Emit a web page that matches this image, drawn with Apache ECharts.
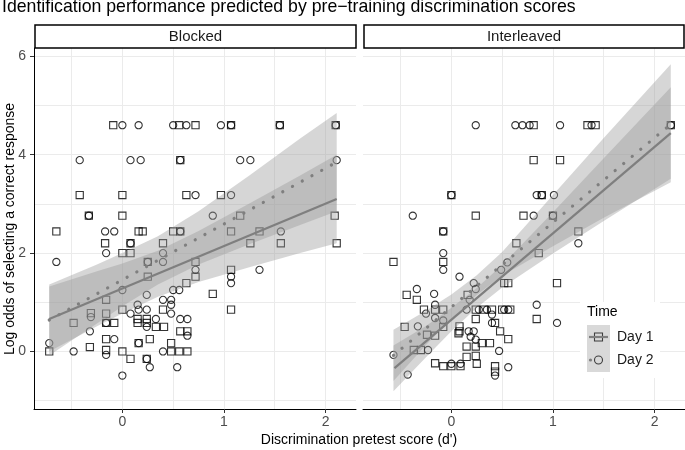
<!DOCTYPE html>
<html>
<head>
<meta charset="utf-8">
<script src="https://cdn.jsdelivr.net/npm/echarts@6/dist/echarts.min.js"></script>
<style>
html,body{margin:0;padding:0;background:#ffffff;}
#chart{width:685px;height:450px;}
</style>
</head>
<body>
<div id="chart"></div>
<script>
// ---------------- data ----------------
const panelNames = ['Blocked', 'Interleaved'];
const seriesNames = ['Day 1', 'Day 2'];
const xTicks = [0, 1, 2];
const yTicks = [0, 2, 4, 6];

// Blocked panel, Day 1 (open squares)
const blockedDay1 = [
  [-0.09,4.6],[0.56,4.6],[0.72,4.6],[1.07,4.6],[1.55,4.6],[2.10,4.6],
  [0.57,3.89],
  [-0.42,3.18],[0.0,3.18],[0.63,3.18],[0.97,3.18],
  [-0.33,2.76],[0.0,2.76],[1.16,2.76],[2.09,2.76],
  [-0.65,2.44],[0.16,2.44],[0.20,2.44],[0.50,2.44],[0.57,2.44],[1.07,2.44],[1.35,2.44],
  [-0.17,2.2],[0.08,2.2],[0.40,2.2],[1.26,2.2],[1.56,2.2],[2.11,2.2],
  [0.0,2.0],[0.08,2.0],
  [0.25,1.82],[0.72,1.82],
  [1.07,1.66],
  [0.25,1.52],[0.72,1.52],
  [0.63,1.39],
  [0.89,1.17],
  [-0.16,1.05],
  [0.0,0.85],[0.40,0.85],[1.07,0.85],
  [-0.31,0.78],[-0.16,0.77],
  [0.15,0.66],[0.24,0.66],
  [-0.48,0.58],[-0.16,0.58],[-0.08,0.58],[0.15,0.58],[0.24,0.58],
  [0.33,0.50],[0.41,0.50],
  [0.57,0.41],[0.64,0.41],
  [-0.16,0.25],[0.27,0.25],
  [0.16,0.17],[0.48,0.17],
  [-0.32,0.09],
  [-0.16,0.03],
  [-0.72,0.0],[0.0,0.0],[0.48,0.0],[0.56,0.0],[0.64,0.0],
  [0.08,-0.15],[0.24,-0.15]
];
// Blocked panel, Day 2 (open circles)
const blockedDay2 = [
  [0.0,4.6],[0.16,4.6],[0.50,4.6],[0.63,4.6],[0.97,4.6],[1.07,4.6],[1.55,4.6],[2.10,4.6],
  [-0.42,3.89],[0.08,3.89],[0.18,3.89],[0.57,3.89],[1.16,3.89],[1.26,3.89],[2.11,3.89],
  [0.72,3.18],[1.07,3.18],
  [-0.33,2.76],[0.89,2.76],
  [-0.17,2.44],[-0.08,2.44],[0.57,2.44],[1.56,2.44],
  [0.08,2.2],
  [-0.16,2.0],[0.40,2.0],
  [-0.65,1.82],[0.25,1.82],[0.40,1.82],
  [0.72,1.66],[1.35,1.66],
  [1.07,1.52],[1.07,1.39],
  [0.0,1.25],[0.50,1.25],[0.56,1.25],
  [0.24,1.15],
  [0.40,1.05],[0.48,1.05],
  [0.15,0.95],[0.48,0.95],
  [0.16,0.85],[0.24,0.85],
  [0.08,0.77],[0.48,0.77],
  [-0.31,0.70],
  [0.33,0.66],[0.57,0.66],[0.64,0.66],
  [-0.16,0.58],
  [0.24,0.50],
  [-0.32,0.41],
  [0.64,0.32],
  [-0.08,0.25],
  [-0.72,0.17],[0.16,0.17],
  [-0.48,0.0],[0.40,0.0],
  [-0.16,-0.07],
  [0.24,-0.15],
  [0.27,-0.32],[0.54,-0.32],
  [0.0,-0.49]
];
// Interleaved panel, Day 1 (open squares)
const interleavedDay1 = [
  [0.81,4.6],[1.34,4.6],[1.42,4.6],[2.16,4.6],
  [0.81,3.89],[1.07,3.89],
  [0.0,3.18],[0.89,3.18],
  [0.24,2.76],[0.71,2.76],[1.0,2.76],
  [-0.08,2.44],[1.25,2.44],
  [0.64,2.2],
  [0.86,2.0],
  [-0.57,1.82],[-0.08,1.82],
  [0.52,1.39],[0.56,1.39],[1.04,1.39],
  [-0.44,1.15],[0.16,1.15],
  [-0.34,1.05],
  [-0.27,0.85],[-0.16,0.85],[-0.08,0.85],[0.24,0.85],[0.32,0.85],[0.40,0.85],[0.50,0.85],[0.58,0.85],
  [0.24,0.66],[0.84,0.66],
  [0.43,0.58],
  [-0.46,0.50],[-0.08,0.50],[0.08,0.51],
  [0.08,0.41],[0.48,0.41],[0.07,0.37],
  [-0.24,0.34],[-0.16,0.32],
  [0.56,0.25],
  [0.30,0.17],[0.38,0.17],
  [0.15,0.10],[0.24,0.10],
  [-0.37,0.03],[-0.30,0.03],
  [0.24,-0.09],[0.15,-0.11],
  [-0.16,-0.24],[0.25,-0.25],
  [-0.08,-0.30],[0.0,-0.30],[0.09,-0.30],[0.43,-0.30],
  [0.43,-0.41]
];
// Interleaved panel, Day 2 (open circles)
const interleavedDay2 = [
  [0.24,4.6],[0.63,4.6],[0.70,4.6],[0.77,4.6],[1.07,4.6],[1.38,4.6],[2.16,4.6],
  [0.0,3.18],[0.84,3.18],[0.89,3.18],[1.01,3.18],
  [-0.38,2.76],[0.81,2.76],[1.0,2.76],
  [-0.08,2.44],
  [1.25,2.2],
  [-0.08,2.0],
  [0.55,1.81],
  [-0.08,1.66],[0.49,1.66],
  [0.08,1.52],
  [0.22,1.39],
  [-0.34,1.27],[0.24,1.27],
  [-0.17,1.17],
  [0.18,1.05],
  [-0.16,0.95],[0.84,0.95],
  [0.15,0.85],[0.27,0.85],[0.35,0.85],[0.52,0.85],[0.56,0.85],
  [-0.25,0.77],[0.40,0.75],
  [-0.16,0.68],[-0.08,0.63],
  [0.40,0.58],[1.04,0.58],
  [-0.33,0.51],
  [0.17,0.41],[0.22,0.41],
  [0.19,0.30],[0.24,0.24],
  [-0.23,0.03],
  [0.47,0.01],
  [-0.57,-0.07],
  [0.0,-0.25],[0.09,-0.25],
  [0.56,-0.32],
  [-0.43,-0.47],[0.43,-0.49]
];

// fitted lines (end points)
const blockedFitDay1 = [[-0.72,0.66],[2.11,3.10]];
const blockedFitDay2 = [[-0.72,0.64],[2.11,3.85]];
const interleavedFitDay1 = [[-0.56,-0.34],[2.16,4.44]];
const interleavedFitDay2 = [[-0.57,-0.08],[2.16,4.62]];

// confidence bands
const blockedBandX = [-0.72,-0.25,0,0.35,0.75,1.25,1.75,2.11];
const blockedBand1Lo = [0.0,0.51,0.77,1.11,1.41,1.71,2.0,2.2];
const blockedBand1Hi = [1.32,1.63,1.79,2.05,2.45,3.01,3.58,4.0];
const blockedBand2Lo = [-0.08,0.57,0.92,1.36,1.77,2.18,2.57,2.85];
const blockedBand2Hi = [1.36,1.77,2.0,2.34,2.85,3.58,4.33,4.85];
const interleavedBandX = [-0.57,-0.25,0,0.25,0.5,1.0,1.5,2.16];
const interleavedBand1Lo = [-0.81,-0.12,0.41,0.89,1.30,1.99,2.65,3.51];
const interleavedBand1Hi = [0.12,0.52,0.89,1.29,1.76,2.83,3.93,5.37];
const interleavedBand2Lo = [-0.60,0.13,0.66,1.15,1.54,2.14,2.72,3.44];
const interleavedBand2Hi = [0.44,0.83,1.16,1.55,2.02,3.18,4.34,5.84];

// ---------------- chart ----------------
const FONT = '"Liberation Sans", Arial, Helvetica, sans-serif';
const X_MIN = -0.87, X_MAX = 2.30, Y_MIN = -1.17, Y_MAX = 6.17;
const GRID_TOP = 48, GRID_H = 361, GRID_W = 322;
const gridLefts = [34, 363];
const LINE_GREY = '#7f7f7f';
const POINT_IN_KEY = '#3d3d3d';

const chart = echarts.init(document.getElementById('chart'), null, {renderer: 'canvas', width: 685, height: 450});

function gridXAxis(g) {
  return {type: 'value', gridIndex: g, position: 'bottom', min: X_MIN, max: X_MAX,
    minInterval: 0.5, maxInterval: 0.5,
    axisLine: {show: true, onZero: false, lineStyle: {color: '#000', width: 1}},
    axisTick: {show: false}, axisLabel: {show: false},
    splitLine: {show: true, showMinLine: false, showMaxLine: false, lineStyle: {color: '#ebebeb', width: 1}}};
}
function labelXAxis(g) {
  return {type: 'value', gridIndex: g, position: 'bottom', min: X_MIN, max: X_MAX,
    axisLine: {show: false, onZero: false}, splitLine: {show: false},
    axisTick: {show: true, length: 4, customValues: xTicks, lineStyle: {color: '#333', width: 1}},
    axisLabel: {show: true, customValues: xTicks, margin: 6, color: '#4d4d4d', fontSize: 14, fontFamily: FONT}};
}
function gridYAxis(g, showLine) {
  return {type: 'value', gridIndex: g, position: 'left', min: Y_MIN, max: Y_MAX,
    minInterval: 1, maxInterval: 1,
    axisLine: {show: showLine, onZero: false, lineStyle: {color: '#000', width: 1}},
    axisTick: {show: false}, axisLabel: {show: false},
    splitLine: {show: true, showMinLine: false, showMaxLine: false, lineStyle: {color: '#ebebeb', width: 1}}};
}
function labelYAxis(g) {
  return {type: 'value', gridIndex: g, position: 'left', min: Y_MIN, max: Y_MAX,
    axisLine: {show: false, onZero: false}, splitLine: {show: false},
    axisTick: {show: true, length: 4, customValues: yTicks, lineStyle: {color: '#333', width: 1}},
    axisLabel: {show: true, customValues: yTicks, margin: 8, color: '#4d4d4d', fontSize: 14, fontFamily: FONT}};
}

function scatter(name, data, symbol, ai) {
  return {type: 'scatter', name: name, data: data, xAxisIndex: ai, yAxisIndex: ai,
    symbol: symbol, symbolSize: 7.2, z: 2, silent: true,
    itemStyle: {color: 'rgba(0,0,0,0)', borderColor: '#000', borderWidth: 1.1},
    emphasis: {disabled: true}};
}
function ribbon(xs, lo, hi, ai) {
  return {type: 'custom', name: 'band', xAxisIndex: ai, yAxisIndex: ai, z: 3, silent: true,
    clip: true, data: [[xs[0], lo[0]]],
    renderItem: function (params, api) {
      const pts = [];
      for (let i = 0; i < xs.length; i++) pts.push(api.coord([xs[i], hi[i]]));
      for (let i = xs.length - 1; i >= 0; i--) pts.push(api.coord([xs[i], lo[i]]));
      return {type: 'polygon', shape: {points: pts}, style: {fill: 'rgba(153,153,153,0.4)', stroke: null}};
    }};
}
function fitLine(name, data, ai, dotted) {
  return {type: 'line', name: name, data: data, xAxisIndex: ai, yAxisIndex: ai, z: 4, silent: true,
    showSymbol: false, symbol: 'none',
    lineStyle: dotted ? {color: LINE_GREY, width: 3.2, type: [0.1, 11], cap: 'round'}
                      : {color: LINE_GREY, width: 2.2, type: 'solid'},
    emphasis: {disabled: true}};
}

const legendCommon = {orient: 'horizontal', left: 587, itemWidth: 23, itemHeight: 10, padding: 0,
  selectedMode: false, z: 10, itemGap: 0, icon: 'none',
  textStyle: {fontSize: 14, color: '#1a1a1a', fontFamily: FONT, padding: [0, 0, 0, 2]}};

const option = {
  animation: false,
  backgroundColor: '#ffffff',
  textStyle: {fontFamily: FONT},
  title: {text: 'Identification performance predicted by pre\u2212training discrimination scores',
    left: 2, top: -2, padding: 0,
    textStyle: {fontSize: 17.7, fontWeight: 'normal', color: '#000', fontFamily: FONT}},
  grid: gridLefts.map(l => ({left: l, top: GRID_TOP, width: GRID_W, height: GRID_H, containLabel: false, outerBoundsMode: 'none'})),
  xAxis: [gridXAxis(0), labelXAxis(0), gridXAxis(1), labelXAxis(1)],
  yAxis: [gridYAxis(0, true), labelYAxis(0), gridYAxis(1, false)],
  legend: [
    Object.assign({}, legendCommon, {data: [seriesNames[0]], top: 330}),
    Object.assign({}, legendCommon, {data: [seriesNames[1]], top: 353})
  ],
  series: [
    scatter(seriesNames[0], blockedDay1, 'rect', 0),
    scatter(seriesNames[1], blockedDay2, 'circle', 0),
    scatter(seriesNames[0], interleavedDay1, 'rect', 2),
    scatter(seriesNames[1], interleavedDay2, 'circle', 2),
    ribbon(blockedBandX, blockedBand1Lo, blockedBand1Hi, 0),
    ribbon(blockedBandX, blockedBand2Lo, blockedBand2Hi, 0),
    ribbon(interleavedBandX, interleavedBand1Lo, interleavedBand1Hi, 2),
    ribbon(interleavedBandX, interleavedBand2Lo, interleavedBand2Hi, 2),
    fitLine(seriesNames[0], blockedFitDay1, 0, false),
    fitLine(seriesNames[1], blockedFitDay2, 0, true),
    fitLine(seriesNames[0], interleavedFitDay1, 2, false),
    fitLine(seriesNames[1], interleavedFitDay2, 2, true)
  ],
  graphic: {elements: [
    // facet strips
    {type: 'rect', z: 5, shape: {x: 35, y: 25, width: 321, height: 23}, style: {fill: '#fff', stroke: '#000', lineWidth: 1.5}},
    {type: 'rect', z: 5, shape: {x: 364, y: 25, width: 320, height: 23}, style: {fill: '#fff', stroke: '#000', lineWidth: 1.5}},
    {type: 'text', z: 6, x: 195.5, y: 37, style: {text: panelNames[0], fontSize: 15, fontFamily: FONT, fill: '#1a1a1a', textAlign: 'center', textVerticalAlign: 'middle'}},
    {type: 'text', z: 6, x: 524, y: 37, style: {text: panelNames[1], fontSize: 15, fontFamily: FONT, fill: '#1a1a1a', textAlign: 'center', textVerticalAlign: 'middle'}},
    // axis titles
    {type: 'text', z: 6, x: 359, y: 440, style: {text: "Discrimination pretest score (d')", fontSize: 14, fontFamily: FONT, fill: '#000', textAlign: 'center', textVerticalAlign: 'middle'}},
    {type: 'text', z: 6, x: 10, y: 229, rotation: Math.PI / 2, style: {text: 'Log odds of selecting a correct response', fontSize: 14, fontFamily: FONT, fill: '#000', textAlign: 'center', textVerticalAlign: 'middle'}},
    // legend box and keys
    {type: 'rect', z: 5, shape: {x: 580, y: 302, width: 80, height: 76}, style: {fill: '#fff'}},
    {type: 'rect', z: 6, shape: {x: 587, y: 325, width: 23, height: 47}, style: {fill: '#d9d9d9'}},
    {type: 'text', z: 6, x: 587, y: 312, style: {text: 'Time', fontSize: 14, fontFamily: FONT, fill: '#000', textAlign: 'left', textVerticalAlign: 'middle'}},
    {type: 'rect', z: 7, shape: {x: 594.5, y: 333, width: 8, height: 8}, style: {fill: 'none', stroke: POINT_IN_KEY, lineWidth: 1.1}},
    {type: 'line', z: 8, shape: {x1: 589, y1: 337, x2: 608, y2: 337}, style: {stroke: LINE_GREY, lineWidth: 2.2}},
    {type: 'circle', z: 7, shape: {cx: 598.5, cy: 360, r: 4}, style: {fill: 'none', stroke: POINT_IN_KEY, lineWidth: 1.1}},
    {type: 'circle', z: 8, shape: {cx: 590.5, cy: 360, r: 1.6}, style: {fill: LINE_GREY}}
  ]}
};
chart.setOption(option);
</script>
</body>
</html>
